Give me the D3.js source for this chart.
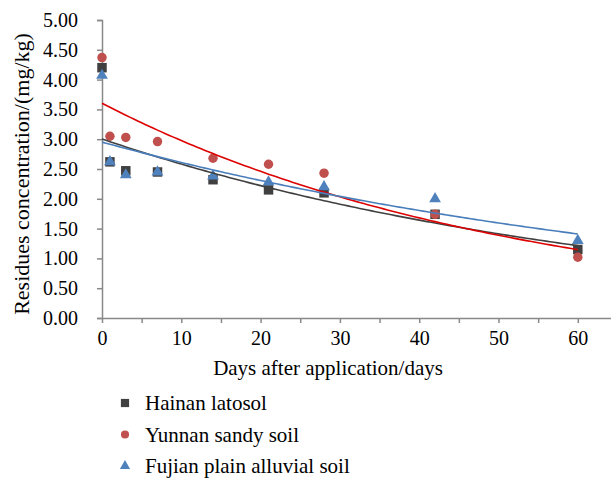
<!DOCTYPE html>
<html>
<head>
<meta charset="utf-8">
<script src="https://cdn.jsdelivr.net/npm/d3@7"></script>
<style>
  html, body { margin: 0; padding: 0; background: #fff; }
  svg text { font-family: "Liberation Serif", serif; fill: #000; }
</style>
</head>
<body>
<div id="chart"></div>
<script>
// days after application
const days = [0, 1, 3, 7, 14, 21, 28, 42, 60]

// residues (mg/kg)
const hainan = [4.20, 2.62, 2.47, 2.45, 2.32, 2.15, 2.10, 1.74, 1.15]
const yunnan = [4.37, 3.05, 3.03, 2.96, 2.68, 2.58, 2.43, 1.74, 1.02]
const fujian = [4.07, 2.62, 2.40, 2.45, 2.38, 2.28, 2.20, 2.00, 1.30]

const seriesNames = ['Hainan latosol', 'Yunnan sandy soil', 'Fujian plain alluvial soil']
const yTicks = [0, 0.5, 1, 1.5, 2, 2.5, 3, 3.5, 4, 4.5, 5]
const xTicks = [0, 5, 10, 15, 20, 25, 30, 35, 40, 45, 50, 55, 60]

const FONT = '"Liberation Serif", serif'
const width = 611
const height = 478
const margin = { top: 20, left: 102 }

const svg = d3.select('#chart').append('svg')
  .attr('width', width)
  .attr('height', height)

const x = d3.scaleLinear().domain([0, 65]).range([margin.left, margin.left + 65 * 7.93])
const y = d3.scaleLinear().domain([0, 5]).range([318, margin.top])

// exponential trendline, same as excel (least squares on ln y)
const expFit = (xs, ys) => {
  const ly = ys.map(v => Math.log(v))
  const mx = d3.mean(xs)
  const my = d3.mean(ly)
  const sxy = d3.sum(xs, (v, i) => (v - mx) * (ly[i] - my))
  const sxx = d3.sum(xs, v => (v - mx) * (v - mx))
  const b = sxy / sxx
  const a = Math.exp(my - b * mx)
  return t => a * Math.exp(b * t)
}

const series = [
  { name: seriesNames[0], values: hainan, fill: '#404040', line: '#404040', shape: d3.symbolSquare, size: 90 },
  { name: seriesNames[1], values: yunnan, fill: '#C0504D', line: '#DD0000', shape: d3.symbolCircle, size: 70 },
  { name: seriesNames[2], values: fujian, fill: '#4F81BD', line: '#4A7EBB', shape: d3.symbolTriangle, size: 60 }
]

// axes
const axisColor = '#898989'

const yAxis = svg.append('g')
  .attr('transform', `translate(${margin.left},0)`)
  .call(d3.axisLeft(y).tickValues(yTicks).tickFormat(d3.format('.2f')).tickSize(5).tickPadding(19))
yAxis.attr('font-family', FONT).attr('font-size', 20)
yAxis.select('.domain').attr('stroke', axisColor).attr('stroke-width', 1.5)
yAxis.selectAll('.tick line').attr('stroke', axisColor).attr('stroke-width', 1.5)

const xAxis = svg.append('g')
  .attr('transform', `translate(0,${y(0)})`)
  .call(d3.axisBottom(x).tickValues(xTicks).tickFormat(d => d % 10 === 0 ? d : '').tickSize(5).tickPadding(8).tickSizeOuter(0))
xAxis.attr('font-family', FONT).attr('font-size', 20)
xAxis.select('.domain').attr('stroke', axisColor).attr('stroke-width', 1.5)
xAxis.selectAll('.tick line').attr('stroke', axisColor).attr('stroke-width', 1.5)

// axis titles
svg.append('text')
  .attr('x', 328)
  .attr('y', 375)
  .attr('text-anchor', 'middle')
  .style('font-size', '21px')
  .text('Days after application/days')

svg.append('text')
  .attr('transform', 'translate(29,174) rotate(-90)')
  .attr('text-anchor', 'middle')
  .style('font-size', '22px')
  .text('Residues concentration/(mg/kg)')

// markers
series.forEach(s => {
  svg.append('g').selectAll('path')
    .data(s.values)
    .join('path')
    .attr('transform', (d, i) => `translate(${x(days[i])},${y(d)})`)
    .attr('d', d3.symbol(s.shape, s.size))
    .attr('fill', s.fill)
})

// trendlines
const line = d3.line().x(d => x(d[0])).y(d => y(d[1]))
series.forEach(s => {
  const f = expFit(days, s.values)
  const pts = d3.range(0, 60.001, 0.5).map(t => [t, f(t)])
  svg.append('path')
    .attr('d', line(pts))
    .attr('fill', 'none')
    .attr('stroke', s.line)
    .attr('stroke-width', 1.6)
})

// legend (last row sits right at the bottom edge, like the original)
const legend = svg.append('g')
  .selectAll('g')
  .data(series)
  .join('g')
  .attr('transform', (d, i) => `translate(125,${403 + i * 31.5})`)

legend.append('path')
  .attr('d', d => d3.symbol(d.shape, d.size * 0.75)())
  .attr('fill', d => d.fill)

legend.append('text')
  .attr('x', 20)
  .attr('y', 7)
  .style('font-size', '21px')
  .text(d => d.name)
</script>
</body>
</html>
